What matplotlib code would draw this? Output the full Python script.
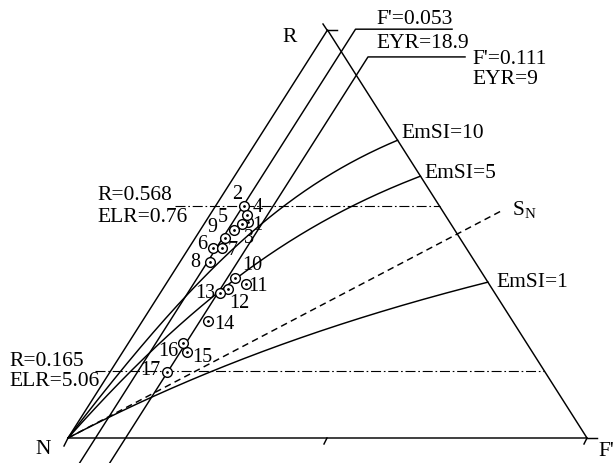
import numpy as np
import matplotlib.pyplot as plt

plt.rcParams['font.family'] = ['Liberation Serif', 'DejaVu Serif']
plt.rcParams['mathtext.fontset'] = 'stix'

# Messpunkte: Anteile R und F' (N = 1 - R - F')
nr = ['1', '2', '3', '4', '5', '6', '7', '8', '9', '10', '11', '12', '13', '14', '15', '16', '17']
R_pkt = [0.529, 0.569, 0.525, 0.547, 0.510, 0.466, 0.466, 0.431, 0.490,
         0.392, 0.377, 0.365, 0.355, 0.287, 0.211, 0.233, 0.162]
F_pkt = [0.082, 0.055, 0.073, 0.072, 0.065, 0.047, 0.064, 0.058, 0.057,
         0.126, 0.154, 0.126, 0.115, 0.126, 0.124, 0.105, 0.110]

# Isolinien
R_lin = [0.568, 0.165]
ELR_lin = [0.76, 5.06]
F_lin = [0.053, 0.111]
EYR_lin = [18.9, 9]
emsi = [10, 5, 1]
sn_ratio = 1.0   # R/F' fuer S_N

# Label-Versatz der Punktnummern (Pixel)
off = [(9, -3), (-7, 11), (7, -15), (10, 7), (-11, 12), (-11, 3), (11, -3), (-15, 0), (-12, 11),
       (17, 13), (12, -2), (11, -14), (-15, 0), (16, -4), (15, -6), (-15, -9), (-17, 1)]

H = 408 / 519


def tern(r, f):
    r = np.asarray(r, dtype=float)
    f = np.asarray(f, dtype=float)
    return f + 0.5 * r, H * r


def px(x, y):
    return (x - 68) / 519, (438 - y) / 519


fig = plt.figure(figsize=(6.15, 4.63), dpi=100)
ax = fig.add_axes([0, 0, 1, 1])
ax.set_xlim(-68 / 519, 547 / 519)
ax.set_ylim(-25 / 519, 438 / 519)
ax.axis('off')

fs = 15.5
lw = 1.05

# Dreieck
x, y = tern([0, 0, 1, 0], [0, 1, 0, 0])
ax.plot(x, y, color='black', lw=lw)
ax.plot(*zip(px(587, 438), px(597, 438)), color='black', lw=lw)
ax.plot(*zip(px(327, 30), px(323, 24)), color='black', lw=lw)
ax.plot(*zip(px(327, 30), px(337, 30)), color='black', lw=lw)
ax.plot(*zip(px(68, 438), px(64, 446)), color='black', lw=lw)
ax.plot(*zip(px(587, 438), px(584, 444)), color='black', lw=lw)
ax.plot(*zip(px(327, 438), px(324, 444)), color='black', lw=lw)
ax.text(*px(290, 38), 'R', fontsize=fs, ha='center', va='center')
ax.text(*px(43, 449), 'N', fontsize=fs, ha='center', va='center')
ax.text(*px(598, 451), "F'", fontsize=fs, ha='left', va='center')

# R = const (ELR)
x_start = [px(175, 0)[0], px(95, 0)[0]]
lab_y = [(196, 218), (362, 382)]
for r, elr, xs, (y1, y2) in zip(R_lin, ELR_lin, x_start, lab_y):
    ax.plot([xs, 1 - 0.5 * r], [H * r, H * r], color='black', lw=0.8,
            linestyle=(0, (9, 2.5, 1.5, 2.5)))
    ax.text(px(97 if r > 0.3 else 9, 0)[0], px(0, y1)[1], 'R=%g' % r,
            fontsize=fs, ha='left', va='center')
    ax.text(px(97 if r > 0.3 else 9, 0)[0], px(0, y2)[1], 'ELR=%g' % elr,
            fontsize=fs, ha='left', va='center')

# F' = const (EYR)
r_knick = [1.002, 0.934]
x_ende = [0.740, 0.765]
for f, rk, xe in zip(F_lin, r_knick, x_ende):
    x, y = tern([-0.0613, rk], [f, f])
    ax.plot(list(x) + [xe], list(y) + [y[1]], color='black', lw=lw)
ax.text(*px(376, 20), "F'=%g" % F_lin[0], fontsize=fs, ha='left', va='center')
ax.text(*px(376, 44), 'EYR=%g' % EYR_lin[0], fontsize=fs, ha='left', va='center')
ax.text(*px(472, 59), "F'=%g" % F_lin[1], fontsize=fs, ha='left', va='center')
ax.text(*px(472, 80), 'EYR=%g' % EYR_lin[1], fontsize=fs, ha='left', va='center')

# EmSI-Kurven
emsi_off = [(4, 7), (4, 3), (9, 0)]
for k, o in zip(emsi, emsi_off):
    r_end = ((2 * k + 1) - np.sqrt(4 * k + 1)) / (2 * k)
    r = np.linspace(0, r_end, 300)
    x, y = tern(r, r / (k * (1 - r)))
    ax.plot(x, y, color='black', lw=lw)
    ax.annotate('EmSI=%g' % k, (x[-1], y[-1]), xytext=o, textcoords='offset pixels',
                fontsize=fs, ha='left', va='center')

# S_N
r = np.array([0, 0.559])
x, y = tern(r, r / sn_ratio)
ax.plot(x, y, color='black', lw=lw, linestyle=(0, (4.5, 3)))
ax.text(*px(512, 210), r'$\mathregular{S_N}$', fontsize=fs, ha='left', va='center')

# Punkte
x, y = tern(R_pkt, F_pkt)
ax.plot(x, y, 'o', ms=7, mfc='white', mec='black', mew=1.0, zorder=3)
ax.plot(x, y, '.', ms=2, color='black', zorder=4)
for xi, yi, n, o in zip(x, y, nr, off):
    ax.annotate(n, (xi, yi), xytext=o, textcoords='offset pixels',
                fontsize=14.5, ha='center', va='center', zorder=5)

fig.savefig('out.png', dpi=100)
plt.close(fig)
